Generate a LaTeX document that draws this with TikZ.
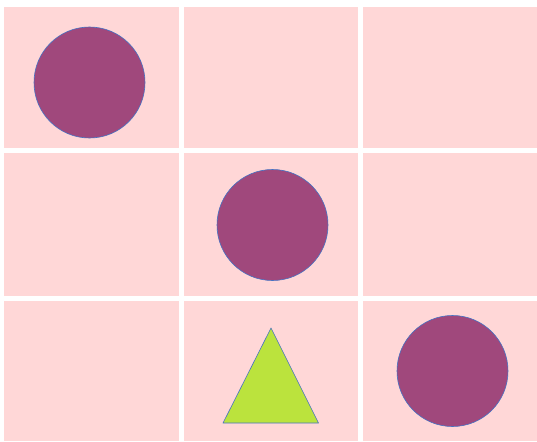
\documentclass[tikz,border=0pt]{standalone}
\usepackage{tikz}
\usetikzlibrary{positioning, calc}
\definecolor{cellpink}{RGB}{255,215,215}
\definecolor{myplum}{RGB}{160,72,124}
\definecolor{mylime}{RGB}{187,227,61}
\definecolor{myedge}{RGB}{68,114,196}
\tikzset{
  cell/.style={fill=cellpink, draw=none},
  disc/.style={circle, fill=myplum, draw=myedge, line width=0.6pt,
    minimum size=111pt, inner sep=0pt},
  tri/.style={fill=mylime, draw=myedge, line width=0.6pt, line join=round}
}
\begin{document}
\begin{tikzpicture}[x=1pt, y=-1pt]
  % page frame
  \fill[white] (0,0) rectangle (537,441);
  \useasboundingbox (0,0) rectangle (537,441);

  % 3 x 3 grid of cells
  \fill[cell] (4,7) rectangle (179,148);
  \fill[cell] (184,7) rectangle (358,148);
  \fill[cell] (363,7) rectangle (537,148);
  \fill[cell] (4,153) rectangle (179,296);
  \fill[cell] (184,153) rectangle (358,296);
  \fill[cell] (363,153) rectangle (537,296);
  \fill[cell] (4,301) rectangle (179,441);
  \fill[cell] (184,301) rectangle (358,441);
  \fill[cell] (363,301) rectangle (537,441);

  % circles on the diagonal
  \node[disc] (c1) at (89.5,82.5) {};
  \node[disc] (c2) at (272.5,225) {};
  \node[disc] (c3) at (452.5,371) {};

  % triangle
  \draw[tri] (271,328) -- (318.5,423) -- (223,423) -- cycle;
\end{tikzpicture}
\end{document}
